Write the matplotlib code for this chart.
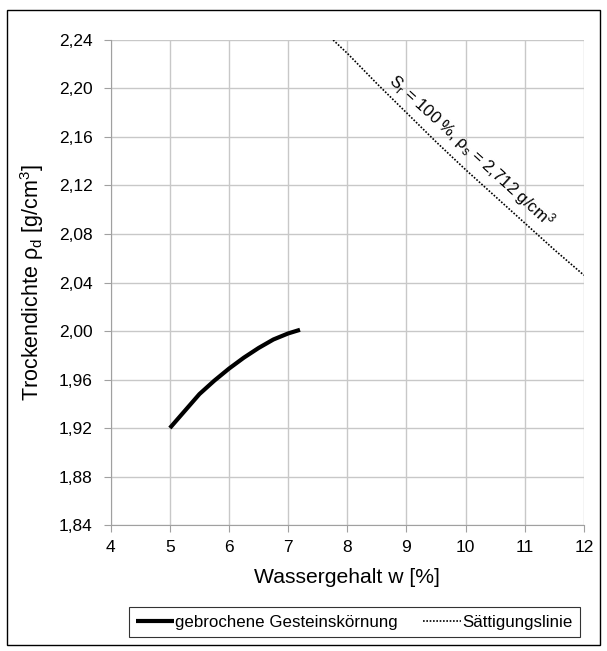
import matplotlib.pyplot as plt
from matplotlib.patches import Rectangle
from matplotlib.ticker import FuncFormatter

# Messkurve
w_gestein = [5.0, 5.25, 5.5, 5.75, 6.0, 6.25, 6.5, 6.75, 7.0, 7.2]
rho_gestein = [1.920, 1.934, 1.948, 1.959, 1.969, 1.978, 1.986, 1.993, 1.998, 2.001]

# Sättigungslinie
w_saett = [7.76, 8.0, 8.5, 9.0, 9.5, 10.0, 10.5, 11.0, 11.5, 12.0]
rho_saett = [2.240, 2.229, 2.204, 2.180, 2.156, 2.133, 2.111, 2.089, 2.067, 2.046]

x_ticks = [4, 5, 6, 7, 8, 9, 10, 11, 12]
y_ticks = [1.84, 1.88, 1.92, 1.96, 2.00, 2.04, 2.08, 2.12, 2.16, 2.20, 2.24]

plt.rcParams['font.family'] = ['Liberation Sans', 'DejaVu Sans']
plt.rcParams['mathtext.fontset'] = 'custom'
plt.rcParams['mathtext.rm'] = 'Liberation Sans'
plt.rcParams['mathtext.it'] = 'Liberation Sans'

fig = plt.figure(figsize=(6.07, 6.51), dpi=100)
ax = fig.add_axes([0.1824, 0.1935, 0.7796, 0.7451])

ax.plot(w_gestein, rho_gestein, color='black', lw=3, solid_capstyle='butt',
        solid_joinstyle='round', label='gebrochene Gesteinskörnung', zorder=3)
ax.plot(w_saett, rho_saett, color='black', lw=1.2, ls=(0, (1, 1)),
        label='Sättigungslinie', zorder=3)

ax.set_xlim(4, 12)
ax.set_ylim(1.84, 2.24)
ax.set_xticks(x_ticks)
ax.set_yticks(y_ticks)
ax.yaxis.set_major_formatter(FuncFormatter(lambda v, p: f'{v:.2f}'.replace('.', ',')))
ax.grid(True, color='#c8c8c8', lw=1)
ax.set_axisbelow(True)
for s in ['top', 'right']:
    ax.spines[s].set_visible(False)
for s in ['left', 'bottom']:
    ax.spines[s].set_color('#a0a0a0')
ax.tick_params(axis='both', colors='#a0a0a0', labelcolor='black', labelsize=12.5,
               length=5, direction='out')
ax.tick_params(axis='x', pad=6)
ax.tick_params(axis='y', pad=8)

ax.set_xlabel('Wassergehalt w [%]', fontsize=15.2, labelpad=9)
ax.set_ylabel(r'Trockendichte ρ$_\mathrm{d}$ [g/cm$^3$]', fontsize=15.5, labelpad=9)

ax.text(10.10, 2.149, r'S$_\mathrm{r}$ = 100 %, ρ$_\mathrm{s}$ = 2,712 g/cm$^3$',
        fontsize=12, rotation=-42.5, rotation_mode='anchor', ha='center', va='center')

leg = fig.legend(loc='center', bbox_to_anchor=(354.5 / 607, 1 - 622 / 651), ncol=2,
                 fontsize=12.2, frameon=True, fancybox=False, handlelength=2.2,
                 handletextpad=0.1, columnspacing=1.5, borderpad=0.45)
leg.get_frame().set_edgecolor('black')
leg.get_frame().set_linewidth(0.8)

fig.patches.append(Rectangle((7 / 607, 6 / 651), 593 / 607, 635 / 651,
                             transform=fig.transFigure, fill=False,
                             edgecolor='black', lw=1))

fig.savefig('out.png', dpi=100)
